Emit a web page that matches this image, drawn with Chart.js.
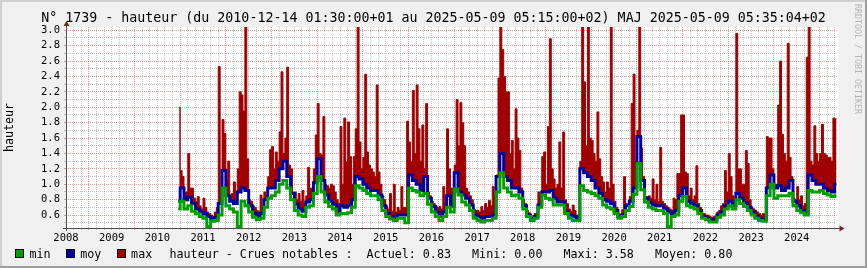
<!DOCTYPE html>
<html><head><meta charset="utf-8">
<script src="https://cdn.jsdelivr.net/npm/chart.js@4.4.1/dist/chart.umd.min.js"></script>
<style>
html,body{margin:0;padding:0;background:#F0F0F0;}
#wrap{position:relative;width:867px;height:268px;overflow:hidden;}
canvas{position:absolute;left:0;top:0;}
.t{position:absolute;font-family:"DejaVu Sans Mono",monospace;font-size:11.7px;line-height:14px;white-space:pre;color:#000;}
.box{position:absolute;width:7px;height:7px;border:1px solid #000;}
#wm{position:absolute;left:852px;top:4px;width:11px;font-family:"DejaVu Sans Mono",monospace;font-size:8.3px;line-height:11px;writing-mode:vertical-rl;color:#b4b4b4;white-space:nowrap;}
</style></head>
<body><div id="wrap"><canvas id="c" width="867" height="268"></canvas><div id="legend"></div><div id="wm">RRDTOOL / TOBI OETIKER</div></div>
<script>
const TITLE = 'N° 1739 - hauteur (du 2010-12-14 01:30:00+01 au 2025-05-09 05:15:00+02) MAJ 2025-05-09 05:35:04+02';
const Y_TITLE = 'hauteur';
const SERIES = ['min', 'moy', 'max'];
const COLORS = ['#00A000', '#0000A0', '#A00000'];
const STATS_TEXT = 'hauteur - Crues notables :  Actuel: 0.83   Mini: 0.00   Maxi: 3.58   Moyen: 0.80';

const MONTHS = [
 '2010-12',
 '2011-01','2011-02','2011-03','2011-04','2011-05','2011-06','2011-07','2011-08','2011-09','2011-10','2011-11','2011-12',
 '2012-01','2012-02','2012-03','2012-04','2012-05','2012-06','2012-07','2012-08','2012-09','2012-10','2012-11','2012-12',
 '2013-01','2013-02','2013-03','2013-04','2013-05','2013-06','2013-07','2013-08','2013-09','2013-10','2013-11','2013-12',
 '2014-01','2014-02','2014-03','2014-04','2014-05','2014-06','2014-07','2014-08','2014-09','2014-10','2014-11','2014-12',
 '2015-01','2015-02','2015-03','2015-04','2015-05','2015-06','2015-07','2015-08','2015-09','2015-10','2015-11','2015-12',
 '2016-01','2016-02','2016-03','2016-04','2016-05','2016-06','2016-07','2016-08','2016-09','2016-10','2016-11','2016-12',
 '2017-01','2017-02','2017-03','2017-04','2017-05','2017-06','2017-07','2017-08','2017-09','2017-10','2017-11','2017-12',
 '2018-01','2018-02','2018-03','2018-04','2018-05','2018-06','2018-07','2018-08','2018-09','2018-10','2018-11','2018-12',
 '2019-01','2019-02','2019-03','2019-04','2019-05','2019-06','2019-07','2019-08','2019-09','2019-10','2019-11','2019-12',
 '2020-01','2020-02','2020-03','2020-04','2020-05','2020-06','2020-07','2020-08','2020-09','2020-10','2020-11','2020-12',
 '2021-01','2021-02','2021-03','2021-04','2021-05','2021-06','2021-07','2021-08','2021-09','2021-10','2021-11','2021-12',
 '2022-01','2022-02','2022-03','2022-04','2022-05','2022-06','2022-07','2022-08','2022-09','2022-10','2022-11','2022-12',
 '2023-01','2023-02','2023-03','2023-04','2023-05','2023-06','2023-07','2023-08','2023-09','2023-10','2023-11','2023-12',
 '2024-01','2024-02','2024-03','2024-04','2024-05','2024-06','2024-07','2024-08','2024-09','2024-10','2024-11','2024-12',
 '2025-01','2025-02','2025-03','2025-04','2025-05'
];

// max, first half of each month
const MAX_EARLY = [
 null,
 1.18,0.88,1.40,0.95,0.78,0.72,0.82,0.64,0.60,0.64,2.53,1.84,
 1.05,0.85,1.03,1.20,2.16,3.58,0.80,0.72,0.66,0.86,0.90,1.10,
 1.49,1.42,1.68,1.40,2.52,1.20,0.90,0.88,0.92,0.85,0.95,1.20,
 2.05,1.38,1.00,0.95,0.98,0.80,1.75,1.86,1.81,1.00,1.72,1.55,
 1.35,1.42,1.20,1.10,1.16,0.85,0.72,0.88,1.00,0.70,0.97,0.70,
 1.55,2.22,2.29,1.30,1.20,0.90,0.78,0.72,0.71,0.97,1.72,0.95,
 1.25,1.50,1.80,0.95,0.85,0.68,0.66,0.71,0.75,0.79,0.97,1.12,
 3.30,2.40,2.20,1.57,1.98,1.44,0.80,0.66,0.58,0.62,0.90,1.36,
 1.00,2.89,1.07,1.00,0.95,0.80,0.68,0.73,0.60,1.30,2.33,3.20,
 1.57,1.30,1.33,1.03,1.03,3.40,0.78,0.62,0.67,0.75,0.84,2.43,
 1.70,1.47,0.84,0.85,1.07,1.00,1.48,0.75,0.70,0.66,0.80,1.14,
 1.90,1.14,0.95,0.85,0.75,0.62,0.60,0.58,0.58,0.64,0.72,1.18,
 1.40,0.85,2.96,1.20,1.00,1.27,0.70,0.66,0.62,0.62,1.62,1.60,
 1.00,2.03,1.65,1.30,1.35,0.82,0.97,0.85,0.75,3.40,1.25,1.40,
 1.40,1.40,1.35,1.30,1.85
];

// max, second half of each month
const MAX_LATE = [
 2.00,
 1.10,0.90,0.95,0.82,0.84,0.68,0.70,0.62,0.58,0.70,0.95,1.66,
 1.30,0.88,0.82,2.20,1.95,1.33,0.78,0.70,0.65,0.70,0.86,1.45,
 1.20,1.30,2.46,1.60,1.25,0.90,0.80,0.78,0.75,1.22,0.90,1.64,
 1.40,1.88,0.98,1.00,0.90,0.75,1.00,1.29,1.36,1.36,3.40,1.20,
 2.43,1.25,1.16,2.29,1.00,0.80,0.68,0.65,0.64,0.66,0.70,1.82,
 1.30,1.40,1.72,1.77,2.05,0.85,0.75,0.70,0.68,0.75,1.20,0.90,
 2.10,2.06,1.50,0.90,0.80,0.66,0.64,0.66,0.70,0.72,0.85,2.38,
 2.75,2.20,1.40,1.20,1.60,0.95,0.75,0.63,0.57,0.62,0.82,1.42,
 1.75,1.20,0.95,1.55,1.68,0.75,0.65,0.66,0.60,3.30,1.50,1.60,
 1.40,1.94,1.10,0.90,0.95,1.00,0.70,0.60,1.10,0.74,2.05,1.30,
 3.50,1.10,0.84,0.82,0.80,0.78,0.78,0.72,0.68,0.82,1.14,1.90,
 1.16,0.85,0.80,1.24,0.70,0.62,0.60,0.57,0.58,0.66,0.75,0.90,
 1.10,0.82,1.20,1.00,1.44,0.80,0.68,0.64,0.60,0.60,1.60,1.20,
 1.00,2.60,1.40,2.83,1.10,0.80,0.80,0.72,2.65,1.30,1.76,1.30,
 1.78,1.38,1.35,1.86,1.85
];

const MOY = [
 0.78,
 0.95,0.80,0.83,0.75,0.68,0.64,0.62,0.58,0.56,0.57,0.75,1.18,
 0.85,0.78,0.75,0.90,0.95,0.92,0.72,0.62,0.58,0.62,0.80,0.95,
 0.95,1.05,1.20,1.30,1.10,0.88,0.74,0.68,0.65,0.77,0.80,1.02,
 1.33,1.05,0.86,0.78,0.74,0.64,0.72,0.70,0.72,0.80,1.10,1.07,
 1.00,0.95,0.92,0.92,0.86,0.72,0.62,0.58,0.56,0.60,0.60,0.60,
 1.12,1.05,1.00,0.92,1.10,0.82,0.71,0.64,0.58,0.64,0.85,0.71,
 1.15,0.90,0.86,0.82,0.73,0.60,0.58,0.55,0.58,0.58,0.60,1.10,
 1.40,1.10,1.05,0.95,0.95,0.90,0.72,0.60,0.55,0.58,0.73,0.90,
 0.90,0.92,0.82,0.77,0.77,0.64,0.60,0.58,0.55,1.20,1.15,1.10,
 1.05,0.95,0.88,0.80,0.78,0.75,0.66,0.58,0.60,0.72,0.78,0.95,
 1.62,1.05,0.82,0.76,0.73,0.72,0.72,0.68,0.64,0.62,0.66,0.85,
 0.95,0.78,0.75,0.72,0.66,0.58,0.56,0.53,0.54,0.60,0.64,0.72,
 0.78,0.72,0.88,0.82,0.76,0.70,0.64,0.58,0.55,0.54,0.95,1.12,
 0.95,0.98,0.92,0.95,1.05,0.78,0.72,0.66,0.62,1.12,1.05,1.00,
 1.00,0.95,0.92,0.90,1.00
];

const MIN = [
 0.68,
 0.78,0.68,0.72,0.65,0.62,0.58,0.56,0.45,0.52,0.53,0.60,0.95,
 0.72,0.68,0.64,0.45,0.78,0.72,0.64,0.57,0.54,0.56,0.70,0.82,
 0.85,0.90,1.00,1.05,0.95,0.80,0.66,0.60,0.58,0.70,0.72,0.88,
 1.10,0.90,0.77,0.71,0.68,0.60,0.62,0.62,0.63,0.70,0.98,0.95,
 0.92,0.88,0.85,0.85,0.80,0.66,0.58,0.55,0.53,0.56,0.56,0.50,
 0.95,0.92,0.90,0.85,0.88,0.74,0.64,0.58,0.53,0.58,0.70,0.64,
 0.94,0.86,0.77,0.73,0.66,0.56,0.53,0.51,0.53,0.53,0.56,0.90,
 1.15,0.95,0.90,0.85,0.86,0.82,0.68,0.58,0.53,0.56,0.70,0.86,
 0.82,0.80,0.73,0.73,0.73,0.62,0.56,0.53,0.53,0.98,0.92,0.90,
 0.88,0.85,0.82,0.73,0.70,0.68,0.62,0.56,0.58,0.66,0.71,0.87,
 1.27,0.93,0.77,0.70,0.68,0.66,0.66,0.62,0.45,0.58,0.60,0.78,
 0.84,0.72,0.70,0.68,0.62,0.56,0.54,0.51,0.51,0.57,0.60,0.68,
 0.72,0.68,0.80,0.75,0.71,0.66,0.60,0.56,0.53,0.52,0.85,1.00,
 0.82,0.85,0.85,0.85,0.88,0.72,0.66,0.63,0.60,0.92,0.90,0.90,
 0.92,0.88,0.86,0.84,0.85
];

const X_LABELS = ['2008','2009','2010','2011','2012','2013','2014','2015','2016','2017','2018','2019','2020','2021','2022','2023','2024'];
const Y_LABELS = ['0.6','0.8','1.0','1.2','1.4','1.6','1.8','2.0','2.2','2.4','2.6','2.8','3.0'];

const X_MIN = 2008.5, X_MAX = 2025.37;
const Y_MIN = 0.432, Y_MAX = 3.043;

const GRID_MINOR = 'rgba(143,143,143,0.55)';
const GRID_MAJOR = 'rgba(224,80,80,0.6)';

function monthPos(m, frac) { const [y, mo] = m.split('-').map(Number); return y + (mo - 1 + frac) / 12; }
function pts(arr) { return MONTHS.map((m, i) => ({ x: monthPos(m, 0.5), y: arr[i] })); }
function halfPts(early, late) {
  const out = [];
  MONTHS.forEach((m, i) => { out.push({ x: monthPos(m, 0.25), y: early[i] }); out.push({ x: monthPos(m, 0.75), y: late[i] }); });
  return out;
}

// grid ticks: every two months on x, every 0.1 on y
const xTicks = [];
for (let k = 0; ; k++) { const v = X_MIN + k / 6; if (v > X_MAX + 1e-9) break; xTicks.push(v); }
const yTicks = [];
for (let k = 5; k <= 30; k++) yTicks.push(k / 10);

const isMajorX = v => Math.abs(v - Math.round(v)) < 1e-6;
const isMajorY = v => Math.round(v * 10) % 2 === 0;
function xLabel(v) {
  const f = v - Math.floor(v);
  if (Math.abs(f - 0.5) < 1e-6) { const s = String(Math.floor(v)); return X_LABELS.includes(s) ? s : ''; }
  return '';
}
function yLabel(v) { const s = (Math.round(v * 10) / 10).toFixed(1); return Y_LABELS.includes(s) ? s : ''; }

const frame = {
  id: 'frame',
  beforeDraw(chart) {
    const c = chart.ctx, a = chart.chartArea, W = chart.width, H = chart.height;
    c.save();
    c.fillStyle = '#F0F0F0'; c.fillRect(0, 0, W, H);
    c.fillStyle = '#CFCFCF'; c.fillRect(0, 0, W, 2); c.fillRect(0, 0, 2, H);
    c.fillStyle = '#9E9E9E'; c.fillRect(0, H - 2, W, 2); c.fillRect(W - 2, 0, 2, H);
    c.fillStyle = '#FFFFFF'; c.fillRect(a.left, a.top, a.right - a.left + 2, a.bottom - a.top);
    c.restore();
  },
  afterDatasetsDraw(chart) {
    const c = chart.ctx, a = chart.chartArea;
    const xb = Math.round(a.bottom) + 0.5, yl = Math.round(a.left) + 0.5;
    c.save();
    c.strokeStyle = '#4F4F4F'; c.lineWidth = 1;
    c.beginPath();
    c.moveTo(a.left - 3, xb); c.lineTo(a.right + 4, xb);
    c.moveTo(yl, a.bottom + 3); c.lineTo(yl, a.top - 2);
    c.stroke();
    c.fillStyle = '#7F1F1F';
    c.beginPath(); c.moveTo(a.right + 3, xb - 3); c.lineTo(a.right + 8, xb); c.lineTo(a.right + 3, xb + 3); c.closePath(); c.fill();
    c.beginPath(); c.moveTo(yl - 3, a.top - 1); c.lineTo(yl, a.top - 6); c.lineTo(yl + 3, a.top - 1); c.closePath(); c.fill();
    c.restore();
  }
};

Chart.defaults.font.family = '"DejaVu Sans Mono", monospace';
Chart.defaults.color = '#000';

const common = { pointRadius: 0, pointHoverRadius: 0, stepped: 'middle', tension: 0, clip: 0 };

new Chart(document.getElementById('c'), {
  type: 'line',
  data: {
    datasets: [
      Object.assign({ label: SERIES[0], data: pts(MIN), borderColor: COLORS[0], borderWidth: 3, fill: false }, common),
      Object.assign({ label: SERIES[1], data: pts(MOY), borderColor: COLORS[1], borderWidth: 3, fill: false }, common),
      Object.assign({ label: SERIES[2], data: halfPts(MAX_EARLY, MAX_LATE), borderColor: COLORS[2], backgroundColor: COLORS[2], borderWidth: 1, fill: 1 }, common)
    ]
  },
  options: {
    responsive: false, animation: false, events: [],
    layout: { padding: 0 },
    plugins: {
      legend: { display: false }, tooltip: { enabled: false },
      title: { display: true, text: TITLE, color: '#000', font: { size: 13.3, weight: 'normal' }, padding: { top: 11, bottom: 0 } }
    },
    scales: {
      x: {
        type: 'linear', min: X_MIN, max: X_MAX,
        afterBuildTicks: s => { s.ticks = xTicks.map(v => ({ value: v })); },
        afterFit: s => { s.height = 40; s.paddingLeft = 0; s.paddingRight = 30.5; },
        grid: { color: c => isMajorX(c.tick.value) ? GRID_MAJOR : GRID_MINOR, tickColor: c => isMajorX(c.tick.value) ? GRID_MAJOR : GRID_MINOR, lineWidth: 1, drawTicks: true, tickLength: 2 },
        border: { display: false, dash: [1, 1] },
        ticks: { autoSkip: false, maxRotation: 0, minRotation: 0, padding: 2, font: { size: 10.5 }, callback: v => xLabel(v) }
      },
      y: {
        min: Y_MIN, max: Y_MAX,
        afterBuildTicks: s => { s.ticks = yTicks.map(v => ({ value: v })); },
        afterFit: s => { s.width = 66; s.paddingTop = 0; s.paddingBottom = 0; },
        grid: { color: c => isMajorY(c.tick.value) ? GRID_MAJOR : GRID_MINOR, tickColor: c => isMajorY(c.tick.value) ? GRID_MAJOR : GRID_MINOR, lineWidth: 1, drawTicks: true, tickLength: 2 },
        border: { display: false, dash: [1, 1] },
        ticks: { autoSkip: false, padding: 4, font: { size: 10.5 }, callback: v => yLabel(v) },
        title: { display: true, text: Y_TITLE, color: '#000', font: { size: 11.7 }, padding: { top: 3, bottom: 0 } }
      }
    }
  },
  plugins: [frame]
});

// legend row
const leg = document.getElementById('legend');
SERIES.forEach((name, i) => {
  const b = document.createElement('div');
  b.className = 'box'; b.style.left = (15 + i * 50.8) + 'px'; b.style.top = '249px'; b.style.background = COLORS[i];
  leg.appendChild(b);
  const t = document.createElement('div');
  t.className = 't'; t.style.left = (29.5 + i * 50.8) + 'px'; t.style.top = '247.2px'; t.textContent = name;
  leg.appendChild(t);
});
const st = document.createElement('div');
st.className = 't'; st.style.left = '169.5px'; st.style.top = '247.2px'; st.textContent = STATS_TEXT;
leg.appendChild(st);
</script>
</body></html>
